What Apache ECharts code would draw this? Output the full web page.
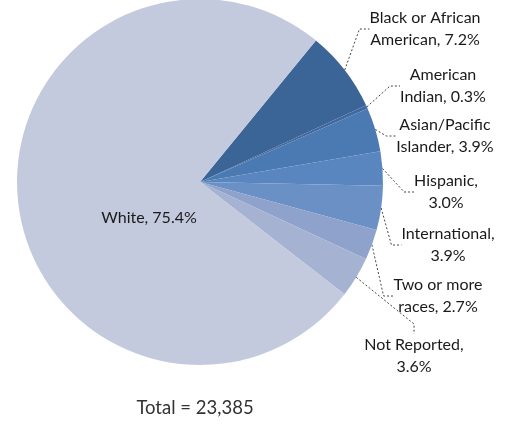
<!DOCTYPE html>
<html>
<head>
<meta charset="utf-8">
<script src="https://cdn.jsdelivr.net/npm/echarts@6/dist/echarts.min.js"></script>
<style>
html,body{margin:0;padding:0;background:#fff;}
#chart{width:510px;height:426px;}
</style>
</head>
<body>
<div id="chart"></div>
<script>
// Data
const categories = ["Black or African\nAmerican", "American\nIndian", "Asian/Pacific\nIslander", "Hispanic", "International", "Two or more\nraces", "Not Reported", "White"];
const percents = [7.2, 0.3, 3.9, 3.0, 3.9, 2.7, 3.6, 75.4];
const labelTexts = ["Black or African\nAmerican, 7.2%", "American\nIndian, 0.3%", "Asian/Pacific\nIslander, 3.9%", "Hispanic,\n3.0%", "International,\n3.9%", "Two or more\nraces, 2.7%", "Not Reported,\n3.6%", "White, 75.4%"];
const totalText = "Total = 23,385";

// Styling / layout (not data)
const colors = ["#3b6497", "#41699f", "#4b79b2", "#5a86bf", "#6a90c6", "#8ea2cc", "#a6b2d2", "#c4cadd"];
const labelPos = [[425, 29], [443, 86], [445, 136], [446, 192], [448, 245], [438, 296], [414, 356], [149, 218]];

const chart = echarts.init(document.getElementById('chart'), null, {renderer: 'canvas'});
const data = categories.map((c, i) => ({
  name: c,
  value: percents[i],
  itemStyle: {color: colors[i]},
  label: i === 7 ? {formatter: labelTexts[i], position: 'inside'} : {formatter: labelTexts[i]},
  labelLine: {show: i !== 7}
}));

chart.setOption({
  animation: false,
  graphic: [{
    type: 'text',
    style: {text: totalText, x: 195, y: 408, font: '18.5px Lato, "Open Sans", sans-serif', fill: '#333', textAlign: 'center', textVerticalAlign: 'middle'}
  }],
  series: [{
    type: 'pie',
    center: [200, 182],
    radius: 183,
    startAngle: 50.7,
    clockwise: true,
    data: data,
    label: {
      show: true,
      position: 'outside',
      color: '#1a1a1a',
      fontFamily: 'Lato, "Open Sans", sans-serif',
      fontSize: 16,
      lineHeight: 22,
      align: 'center'
    },
    labelLine: {
      show: true,
      length: 10,
      length2: 10,
      lineStyle: {color: '#444', width: 1, type: [2, 2]}
    },
    labelLayout: function (params) {
      const p = labelPos[params.dataIndex];
      return {x: p[0], y: p[1], align: 'center', verticalAlign: 'middle', hideOverlap: false};
    },
    emphasis: {disabled: true}
  }]
});
</script>
</body>
</html>
